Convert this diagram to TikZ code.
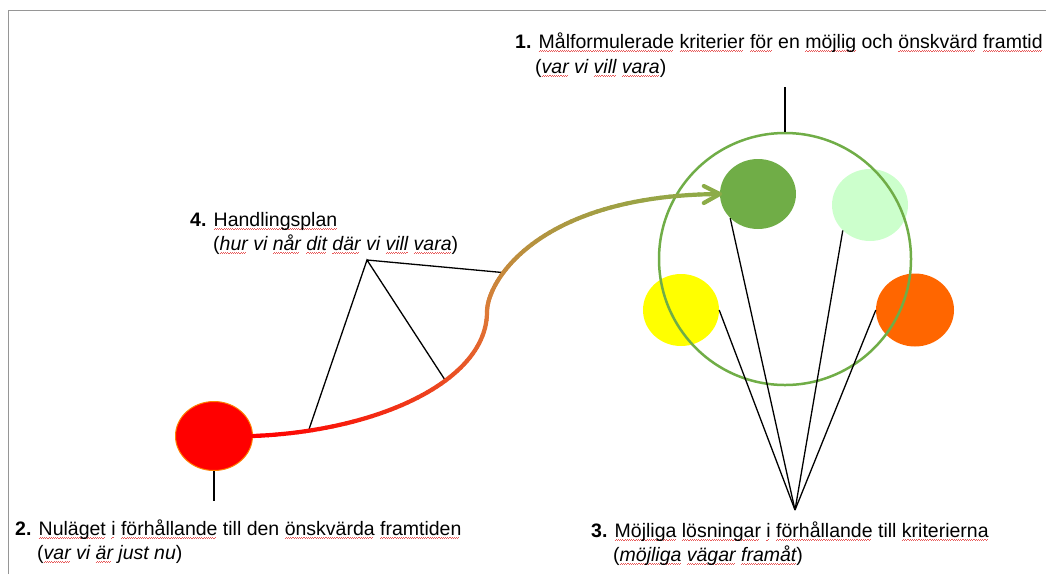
\documentclass[tikz,border=0pt]{standalone}
\usepackage{fontspec}
\setmainfont{Liberation Sans}
\usetikzlibrary{arrows.meta,shapes.geometric}

\definecolor{leafgreen}{HTML}{70AD47}
\definecolor{mint}{HTML}{CCFFCC}
\definecolor{sun}{HTML}{FFFF00}
\definecolor{tangerine}{HTML}{FF6600}
\definecolor{framegray}{RGB}{150,150,150}
\definecolor{midorange}{RGB}{222,122,55}
\definecolor{olivegreen}{RGB}{140,172,72}
\definecolor{spell}{RGB}{232,90,90}

% red wavy underline for flagged words
\newsavebox\sqbox
\newcommand\sqtooth{\hbox{\rule[0pt]{1.1pt}{0.6pt}\rule[0.8pt]{1.1pt}{0.6pt}}}
\newcommand\sq[1]{\sbox\sqbox{#1}\rlap{\lower3.6pt\hbox to \wd\sqbox{\color{spell}\leaders\sqtooth\hfill}}\usebox\sqbox}

\begin{document}
\begin{tikzpicture}[x=1pt,y=-1pt,
  blob/.style={ellipse, inner sep=0pt, draw=none},
  lbl/.style={anchor=base west, inner sep=0pt, font=\fontsize{19.5}{24}\selectfont},
  pointer/.style={black, line width=1.3pt},
  path piece/.style={line width=4.2pt, line cap=round}]
\useasboundingbox (0,0) rectangle (1046,574);

% frame
\draw[framegray, line width=1.6pt] (8.5,574) -- (8.5,10.5) -- (1046,10.5);

% possible solutions
\node[blob, fill=leafgreen, minimum width=76pt, minimum height=70pt] (dg) at (758,194) {};
\node[blob, fill=mint, minimum width=76pt, minimum height=72pt] (lg) at (870,205) {};
\node[blob, fill=sun, minimum width=76pt, minimum height=72pt] (yel) at (681,310) {};
\node[blob, fill=tangerine, minimum width=78pt, minimum height=73pt] (org) at (915,310) {};

% criteria circle
\node[circle, draw=leafgreen, line width=2.5pt, minimum size=252pt, inner sep=0pt] (goal) at (785,259) {};

% current state
\node[blob, fill=red, draw=orange, line width=1pt, minimum width=77pt, minimum height=69pt] (now) at (214,436) {};

% labels
\node[lbl] (t1a) at (515,48) {\textbf{1.} \sq{Målformulerade} \sq{kriterier} \sq{för} en \sq{möjlig} och \sq{önskvärd} \sq{framtid}};
\node[lbl] (t1b) at (535,73) {(\textit{\sq{var} vi \sq{vill} \sq{vara}})};
\node[lbl] (t2a) at (15,535) {\textbf{2.} \sq{Nuläget} \sq{i} \sq{förhållande} till den \sq{önskvärda} \sq{framtiden}};
\node[lbl] (t2b) at (37,559) {(\textit{\sq{var} vi \sq{är} just nu})};
\node[lbl] (t3a) at (591,537) {\textbf{3.} \sq{Möjliga} \sq{lösningar} \sq{i} \sq{förhållande} till \sq{kriterierna}};
\node[lbl] (t3b) at (613,561) {(\textit{\sq{möjliga} \sq{vägar} \sq{framåt}})};
\node[lbl] (t4a) at (190,226) {\textbf{4.} \sq{Handlingsplan}};
\node[lbl] (t4b) at (213,250) {(\textit{\sq{hur} vi \sq{når} \sq{dit} \sq{där} vi \sq{vill} \sq{vara}})};

% pointer ends
\coordinate (goaltail) at (785,87);
\coordinate (nowtail) at (214,501);
\coordinate (hub) at (795,510);
\coordinate (planhub) at (367,260);
\coordinate (bend) at (487,312);

\draw[pointer] (goaltail) -- (goal.north);
\draw[pointer] (now.south) -- (nowtail);
\draw[pointer] (hub) -- (dg.221.6);
\draw[pointer] (hub) -- (lg.223.9);
\draw[pointer] (hub) -- (yel.east);
\draw[pointer] (hub) -- (org.west);

% points along the action-plan path
\path (now.east) .. controls (380,431) and (487,380) .. (bend)
  coordinate[pos=0.15] (p1) coordinate[pos=0.62] (p2);
\path (bend) .. controls (487,280) and (540,195) .. (dg.west)
  coordinate[pos=0.3] (p3);
\draw[pointer] (p1) -- (planhub) -- (p2);
\draw[pointer] (planhub) -- (p3);

% action-plan path, red through orange to green
\foreach \i in {0,...,50} {
  \path (now.east) .. controls (380,431) and (487,380) .. (bend) coordinate[pos=\i/50] (a\i);
  \path (bend) .. controls (487,280) and (540,195) .. (dg.west) coordinate[pos=\i/50] (b\i);
}
\foreach \i [evaluate=\i as \j using int(\i+1), evaluate=\i as \c using 2*\i] in {0,...,49} {
  \draw[path piece, color=midorange!\c!red] (a\i) -- (a\j);
}
\foreach \i [evaluate=\i as \j using int(\i+1), evaluate=\i as \c using 2*\i] in {0,...,49} {
  \draw[path piece, color=olivegreen!\c!midorange] (b\i) -- (b\j);
}
\draw[olivegreen, line width=4.2pt, line cap=round, line join=round]
  ([shift={(-16,-8)}]dg.west) -- (dg.west) -- ([shift={(-16,9)}]dg.west);
\end{tikzpicture}
\end{document}
